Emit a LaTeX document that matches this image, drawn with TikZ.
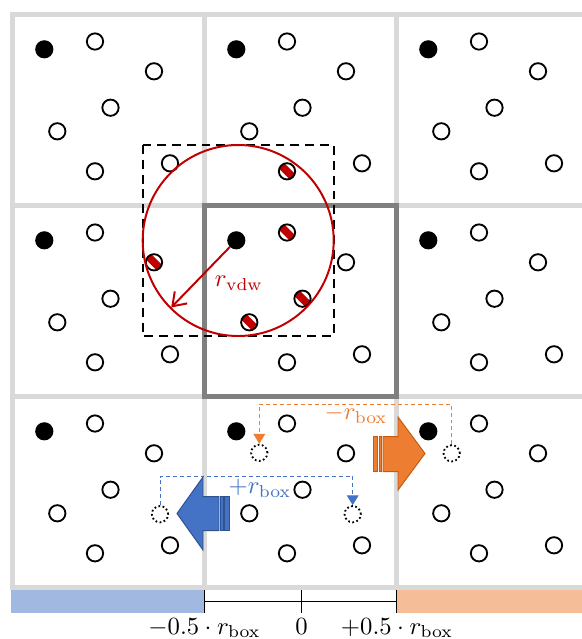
\documentclass[tikz,border=0pt]{standalone}
\usetikzlibrary{arrows.meta,calc}
\definecolor{gridgray}{HTML}{D9D9D9}
\definecolor{boxgray}{HTML}{808080}
\definecolor{myred}{HTML}{C00000}
\definecolor{myblue}{HTML}{4472C4}
\definecolor{myblueline}{HTML}{2F528F}
\definecolor{myorange}{HTML}{ED7D31}
\definecolor{myorangeline}{HTML}{C55A11}
\begin{document}
\begin{tikzpicture}[x=0.405pt,y=-0.405pt,
  gridline/.style={gridgray,line width=2pt},
  particle/.style={circle,draw=black,line width=0.75pt,minimum size=6.6pt,inner sep=0pt,fill=white},
  st-0/.style={fill=black},
  ghost/.style={circle,draw=black,line width=0.75pt,dash pattern=on 0.7pt off 1pt,minimum size=6.6pt,inner sep=0pt},
  inrange/.style={path picture={\fill[myred]
      ([xshift=4.6pt,yshift=-2.4pt]path picture bounding box.center) --
      ([xshift=2.4pt,yshift=-4.6pt]path picture bounding box.center) --
      ([xshift=-4.6pt,yshift=2.4pt]path picture bounding box.center) --
      ([xshift=-2.4pt,yshift=4.6pt]path picture bounding box.center) -- cycle;}},
  st-1-0-5/.style={inrange}, st-1-1-1/.style={inrange}, st-1-1-3/.style={inrange},
  st-1-1-4/.style={inrange}, st-0-1-2/.style={inrange},
  shiftline/.style={line width=0.4pt,dash pattern=on 1.6pt off 1.2pt,-{Triangle[width=4.8pt,length=4pt]}},
  blockarrow/.style={line width=0.4pt,line join=miter},
  lbl/.style={inner sep=0pt,font=\normalsize}
]
\useasboundingbox (0,0) rectangle (582,639);
% grid
\foreach \gx in {12.5,204.5,396.5} \draw[gridline] (\gx,12) -- (\gx,590);
\foreach \gy in {14.5,205.5,396.5,587.5} \draw[gridline] (10,\gy) -- (582,\gy);
% central box
\draw[boxgray,line width=2.2pt] (204.5,205.5) rectangle (396.5,396.5);
% particles
\foreach \c/\X in {0/12.5,1/204.5,2/396.5}
 \foreach \r/\Y in {0/14.5,1/205.5,2/396.5}
  \foreach \k/\dx/\dy in {0/31.8/34.8,1/82.5/27,2/141.5/56.8,3/98/93.2,4/44.8/116.8,5/82.5/156.8,6/157.5/148.8}
   \node[particle,st-\k/.try,st-\c-\r-\k/.try] (p-\c-\r-\k) at (\X+\dx,\Y+\dy) {};
% cutoff region
\coordinate (rc) at (238.2,240.5);
\draw[black,line width=0.8pt,dash pattern=on 3.6pt off 2.4pt] ($(rc)+(-95.5,-95.5)$) rectangle ($(rc)+(95.5,95.5)$);
\draw[myred,line width=0.8pt] (rc) circle[radius=38.68pt];
\coordinate (rtip) at ($(rc)+(-67,67)$);
\draw[myred,line width=0.8pt,-{Straight Barb[length=5pt,width=7pt]}] (p-1-1-0) -- (rtip);
\node[lbl,text=myred] (lvdw) at (239,283) {$r_{\mathrm{vdw}}$};
% ghost particles
\node[ghost] (gO1) at (259.3,452.8) {};
\node[ghost] (gO2) at (451.7,453.3) {};
\node[ghost] (gB1) at (160,514.2) {};
\node[ghost] (gB2) at (352.7,514.2) {};
\coordinate (oy) at (0,404.5);
\coordinate (by) at (0,476.5);
\draw[myorange,shiftline] (gO2.north) -- (gO2.north |- oy) -| (gO1.north);
\draw[myblue,shiftline] (gB1.north) -- (gB1.north |- by) -| (gB2.north);
\node[lbl,text=myorange] (lminus) at (356,414) {$-r_{\mathrm{box}}$};
\node[lbl,text=myblue] (lplus) at (260,488) {$+r_{\mathrm{box}}$};
% block arrows
\filldraw[myorange,draw=myorangeline,blockarrow] (383,436.5) -- (398,436.5) -- (398,417) -- (425,453.5) -- (398,490) -- (398,471.5) -- (383,471.5) -- cycle;
\filldraw[myorange,draw=myorangeline,blockarrow] (373,436.5) rectangle (377.5,471.5);
\filldraw[myorange,draw=myorangeline,blockarrow] (379,436.5) rectangle (381.5,471.5);
\filldraw[myblue,draw=myblueline,blockarrow] (219,496.5) -- (203,496.5) -- (203,477) -- (177,513.5) -- (203,550) -- (203,530.5) -- (219,530.5) -- cycle;
\filldraw[myblue,draw=myblueline,blockarrow] (220.5,496.5) rectangle (223,530.5);
\filldraw[myblue,draw=myblueline,blockarrow] (224.5,496.5) rectangle (229,530.5);
% bottom scale
\fill[myblue!50] (11,590) rectangle (204.5,613);
\fill[myorange!50] (396.5,590) rectangle (582,613);
\coordinate (tl) at (204.5,601.5);
\coordinate (tm) at (301,601.5);
\coordinate (tr) at (396.5,601.5);
\draw[black,line width=0.4pt] (tl) -- (tr);
\foreach \t in {tl,tm,tr} \draw[black,line width=0.4pt] ($(\t)+(0,-11.5)$) -- ($(\t)+(0,11.5)$);
\node[lbl,anchor=base] (lneg) at (204.5,634) {$-0.5\cdot r_{\mathrm{box}}$};
\node[lbl,anchor=base] (lzero) at (301.5,634) {$0$};
\node[lbl,anchor=base] (lpos) at (397,634) {$+0.5\cdot r_{\mathrm{box}}$};
\end{tikzpicture}
\end{document}
